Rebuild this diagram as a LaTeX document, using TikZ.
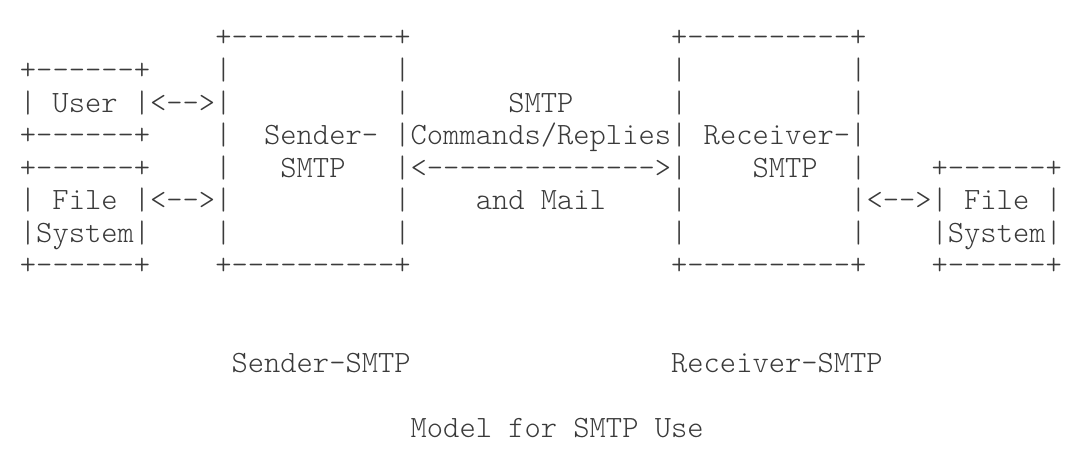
\documentclass[tikz,border=0pt]{standalone}
\usepackage{fontspec}
\setmonofont{Latin Modern Mono Light}
\definecolor{ink}{HTML}{3A3A3A}
% grid of the character cells (pixels)
\def\ox{19.56}
\def\cw{16.28}
\def\oy{47}
\def\rh{32.55}
\begin{document}
\begin{tikzpicture}[x=0.5pt, y=-0.5pt,
    asc/.style={font=\ttfamily\fontsize{15.5pt}{18pt}\selectfont, text=ink,
      inner sep=0pt, anchor=base west}]
    \useasboundingbox (0,0) rectangle (1090,469);

    % User and File System boxes on the left
    \node[asc] (usertop) at ({\ox+\cw*0}, {\oy+\rh*1}) {+------+};
    \node[asc] (user) at ({\ox+\cw*0}, {\oy+\rh*2}) {|~User~|<-->|};
    \node[asc] (userbot) at ({\ox+\cw*0}, {\oy+\rh*3}) {+------+};
    \node[asc] (fstop) at ({\ox+\cw*0}, {\oy+\rh*4}) {+------+};
    \node[asc] (fs) at ({\ox+\cw*0}, {\oy+\rh*5}) {|~File~|<-->|};
    \node[asc] (fssys) at ({\ox+\cw*0}, {\oy+\rh*6}) {|System|};
    \node[asc] (fsbot) at ({\ox+\cw*0}, {\oy+\rh*7}) {+------+};

    % Sender-SMTP box
    \node[asc] (sndtop) at ({\ox+\cw*12}, {\oy+\rh*0}) {+----------+};
    \node[asc] (sndl1) at ({\ox+\cw*12}, {\oy+\rh*1}) {|};
    \node[asc] (sndl3) at ({\ox+\cw*12}, {\oy+\rh*3}) {|};
    \node[asc] (sndl4) at ({\ox+\cw*12}, {\oy+\rh*4}) {|};
    \node[asc] (sndl6) at ({\ox+\cw*12}, {\oy+\rh*6}) {|};
    \node[asc] (sndname) at ({\ox+\cw*15}, {\oy+\rh*3}) {Sender-};
    \node[asc] (sndsmtp) at ({\ox+\cw*16}, {\oy+\rh*4}) {SMTP};
    \node[asc] (sndbot) at ({\ox+\cw*12}, {\oy+\rh*7}) {+----------+};
    \node[asc] (sndr1) at ({\ox+\cw*23}, {\oy+\rh*1}) {|};
    \node[asc] (sndr2) at ({\ox+\cw*23}, {\oy+\rh*2}) {|};
    \node[asc] (sndr5) at ({\ox+\cw*23}, {\oy+\rh*5}) {|};
    \node[asc] (sndr6) at ({\ox+\cw*23}, {\oy+\rh*6}) {|};

    % link between the two SMTP boxes
    \node[asc] (smtp) at ({\ox+\cw*30}, {\oy+\rh*2}) {SMTP};
    \node[asc] (cmds) at ({\ox+\cw*23}, {\oy+\rh*3}) {|Commands/Replies|};
    \node[asc] (link) at ({\ox+\cw*23}, {\oy+\rh*4}) {|<-------------->|};
    \node[asc] (mail) at ({\ox+\cw*28}, {\oy+\rh*5}) {and~Mail};

    % Receiver-SMTP box
    \node[asc] (rcvtop) at ({\ox+\cw*40}, {\oy+\rh*0}) {+----------+};
    \node[asc] (rcvl1) at ({\ox+\cw*40}, {\oy+\rh*1}) {|};
    \node[asc] (rcvl2) at ({\ox+\cw*40}, {\oy+\rh*2}) {|};
    \node[asc] (rcvl5) at ({\ox+\cw*40}, {\oy+\rh*5}) {|};
    \node[asc] (rcvl6) at ({\ox+\cw*40}, {\oy+\rh*6}) {|};
    \node[asc] (rcvname) at ({\ox+\cw*42}, {\oy+\rh*3}) {Receiver-|};
    \node[asc] (rcvsmtp) at ({\ox+\cw*45}, {\oy+\rh*4}) {SMTP};
    \node[asc] (rcvbot) at ({\ox+\cw*40}, {\oy+\rh*7}) {+----------+};
    \node[asc] (rcvr1) at ({\ox+\cw*51}, {\oy+\rh*1}) {|};
    \node[asc] (rcvr2) at ({\ox+\cw*51}, {\oy+\rh*2}) {|};
    \node[asc] (rcvr4) at ({\ox+\cw*51}, {\oy+\rh*4}) {|};
    \node[asc] (rcvr6) at ({\ox+\cw*51}, {\oy+\rh*6}) {|};

    % File System box on the right
    \node[asc] (rfstop) at ({\ox+\cw*56}, {\oy+\rh*4}) {+------+};
    \node[asc] (rfs) at ({\ox+\cw*51}, {\oy+\rh*5}) {|<-->|~File~|};
    \node[asc] (rfssys) at ({\ox+\cw*56}, {\oy+\rh*6}) {|System|};
    \node[asc] (rfsbot) at ({\ox+\cw*56}, {\oy+\rh*7}) {+------+};

    % captions
    \node[asc] (sndcap) at ({\ox+\cw*13}, {\oy+\rh*10}) {Sender-SMTP};
    \node[asc] (rcvcap) at ({\ox+\cw*40}, {\oy+\rh*10}) {Receiver-SMTP};
    \node[asc] (title) at ({\ox+\cw*24}, {\oy+\rh*12}) {Model~for~SMTP~Use};
\end{tikzpicture}
\end{document}
